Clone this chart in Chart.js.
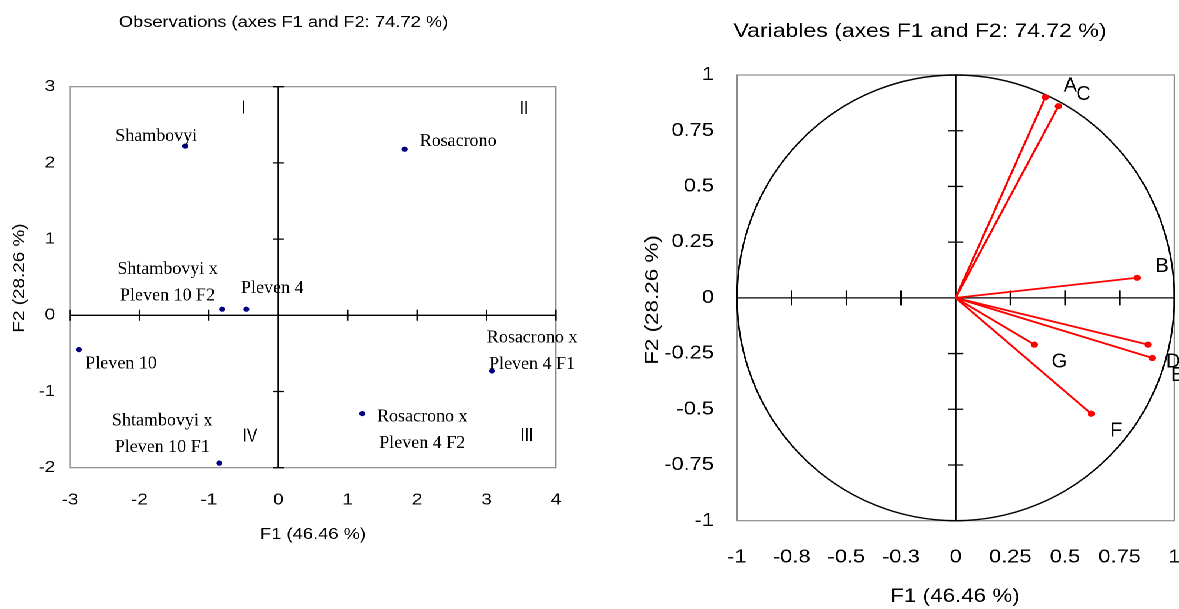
<!DOCTYPE html>
<html><head><meta charset="utf-8">
<script src="https://cdn.jsdelivr.net/npm/chart.js@4/dist/chart.umd.min.js"></script>
<style>
html,body{margin:0;padding:0;background:#fff;overflow:hidden;width:1179px;height:609px;}
#stage{position:absolute;left:0;top:0;width:999px;height:609px;transform-origin:0 0;transform:scaleX(1.18018);}
#c1{position:absolute;left:0;top:0;}
#c2{position:absolute;left:508px;top:0;}
</style></head><body>
<div id="stage"><canvas id="c1" width="508" height="609"></canvas><canvas id="c2" width="491" height="609"></canvas></div>
<script>
// ---------- data ----------
const obsNames = ["Shambovyi","Rosacrono","Shtambovyi x Pleven 10 F2","Pleven 4","Pleven 10","Rosacrono x Pleven 4 F1","Rosacrono x Pleven 4 F2","Shtambovyi x Pleven 10 F1"];
const obsF1 = [-1.34, 1.82, -0.81, -0.46, -2.87, 3.08, 1.21, -0.85];
const obsF2 = [2.22, 2.18, 0.08, 0.08, -0.45, -0.73, -1.29, -1.94];
const obsXTicks = [-3, -2, -1, 0, 1, 2, 3, 4];
const obsYTicks = [-2, -1, 0, 1, 2, 3];
const quadrantNames = ["I", "II", "III", "IV"];

const varNames = ["A","B","C","D","E","F","G"];
const varF1 = [0.41, 0.83, 0.47, 0.88, 0.90, 0.62, 0.36];
const varF2 = [0.90, 0.09, 0.86, -0.21, -0.27, -0.52, -0.21];
const varXTicks = [-1, -0.75, -0.5, -0.25, 0, 0.25, 0.5, 0.75, 1];
const varXTickLabels = ["-1","-0.8","-0.5","-0.3","0","0.25","0.5","0.75","1"];
const varYTicks = [-1, -0.75, -0.5, -0.25, 0, 0.25, 0.5, 0.75, 1];
const varYTickLabels = ["-1","-0.75","-0.5","-0.25","0","0.25","0.5","0.75","1"];
const circleRadius = 1;

const titleObs = "Observations (axes F1 and F2: 74.72 %)";
const titleVar = "Variables (axes F1 and F2: 74.72 %)";
const axisF1 = "F1 (46.46 %)";
const axisF2 = "F2 (28.26 %)";

// ---------- layout (display px) ----------
const K = 1179 / 999;        // horizontal text width factor
const OFF2 = 508;            // internal left of second canvas
const ix1 = d => d / K;
const ix2 = d => d / K - OFF2;
const SANS = '"Liberation Sans", Arial, Helvetica, sans-serif';
const SERIF = '"Liberation Serif", "Times New Roman", serif';

const obsLabelLayout = [
  {dx: -29, dy: -5}, {dx: 53.5, dy: -3}, {dx: -54.5, dy: -35}, {dx: 26, dy: -16},
  {dx: 42, dy: 19}, {dx: 40, dy: -28.4}, {dx: 60, dy: 8}, {dx: -57, dy: -37.6}
];
const quadLayout = [{x: 243.3, y: 113.3}, {x: 524, y: 114}, {x: 526.7, y: 441}, {x: 250, y: 441.7}];

function T(ctx, s, x, y, o) {
  ctx.save();
  ctx.translate(x, y);
  ctx.scale(1 / K, 1);
  if (o.rot) ctx.rotate(o.rot);
  ctx.scale(o.sx || 1, 1);
  ctx.font = o.font;
  ctx.fillStyle = o.color || '#000';
  ctx.textAlign = o.align || 'center';
  ctx.textBaseline = o.baseline || 'alphabetic';
  ctx.fillText(s, 0, 0);
  ctx.restore();
}

function drawFrame(chart) {
  const {ctx, chartArea: a} = chart;
  ctx.save();
  ctx.strokeStyle = '#8c8c8c'; ctx.lineWidth = 1.2;
  ctx.strokeRect(a.left, a.top, a.right - a.left, a.bottom - a.top);
  ctx.restore();
}
function drawZeroAxes(chart, tickHalf) {
  const {ctx, chartArea: a, scales: {x, y}} = chart;
  const x0 = x.getPixelForValue(0), y0 = y.getPixelForValue(0);
  ctx.save();
  ctx.strokeStyle = '#000'; ctx.lineWidth = 1.3;
  ctx.beginPath();
  ctx.moveTo(a.left, y0); ctx.lineTo(a.right, y0);
  ctx.moveTo(x0, a.top); ctx.lineTo(x0, a.bottom);
  x.ticks.forEach(t => { const px = x.getPixelForValue(t.value); ctx.moveTo(px, y0 - tickHalf); ctx.lineTo(px, y0 + tickHalf); });
  y.ticks.forEach(t => { const py = y.getPixelForValue(t.value); ctx.moveTo(x0 - tickHalf / K, py); ctx.lineTo(x0 + tickHalf / K, py); });
  ctx.stroke();
  ctx.restore();
}

function splitName(n) {
  const i = n.indexOf(' x ');
  return i < 0 ? [n] : [n.slice(0, i + 2), n.slice(i + 3)];
}

const leftPlugin = {
  id: 'leftDecor',
  beforeDatasetsDraw(chart) { drawFrame(chart); drawZeroAxes(chart, 5.5); },
  afterDatasetsDraw(chart) {
    const {ctx, scales: {x, y}} = chart;
    obsNames.forEach((n, i) => {
      const px = x.getPixelForValue(obsF1[i]), py = y.getPixelForValue(obsF2[i]);
      const L = obsLabelLayout[i];
      splitName(n).forEach((line, j) => {
        T(ctx, line, px + L.dx / K, py + L.dy + j * 26.5, {font: '18px ' + SERIF});
      });
    });
    quadrantNames.forEach((q, i) => {
      T(ctx, q, ix1(quadLayout[i].x), quadLayout[i].y, {font: '18px ' + SANS, sx: 0.85});
    });
    T(ctx, titleObs, ix1(283.5), 27, {font: '15.5px ' + SANS, sx: K});
    T(ctx, axisF1, ix1(313), 539, {font: '15.5px ' + SANS, sx: K});
    T(ctx, axisF2, ix1(20), 278, {font: '16px ' + SANS, sx: K, rot: -Math.PI / 2, baseline: 'middle'});
  }
};

const rightPlugin = {
  id: 'rightDecor',
  beforeDatasetsDraw(chart) {
    const {ctx, scales: {x, y}} = chart;
    drawFrame(chart);
    const cx = x.getPixelForValue(0), cy = y.getPixelForValue(0);
    const rx = x.getPixelForValue(circleRadius) - cx, ry = cy - y.getPixelForValue(circleRadius);
    ctx.save();
    ctx.strokeStyle = '#000'; ctx.lineWidth = 1.4;
    ctx.beginPath(); ctx.ellipse(cx, cy, rx, ry, 0, 0, Math.PI * 2); ctx.stroke();
    ctx.restore();
    drawZeroAxes(chart, 7.5);
  },
  afterDatasetsDraw(chart) {
    const {ctx, scales: {x, y}} = chart;
    varNames.forEach((n, i) => {
      const px = x.getPixelForValue(varF1[i]), py = y.getPixelForValue(varF2[i]);
      T(ctx, n, px + 25 / K, py + (varF2[i] >= 0 ? -6 : 23), {font: '20px ' + SANS});
    });
    T(ctx, titleVar, ix2(920), 37, {font: '19.5px ' + SANS, sx: K});
    T(ctx, axisF1, ix2(955), 602, {font: '19px ' + SANS, sx: K});
    T(ctx, axisF2, ix2(653), 300, {font: '19px ' + SANS, sx: K, rot: -Math.PI / 2, baseline: 'middle'});
  }
};

const common = {
  responsive: false, animation: false, devicePixelRatio: 2, events: [],
  plugins: {legend: {display: false}, tooltip: {enabled: false}, title: {display: false}}
};
const noGrid = {display: false, drawTicks: false, tickLength: 0};

new Chart(document.getElementById('c1'), {
  type: 'scatter',
  data: {datasets: [{
    data: obsF1.map((v, i) => ({x: v, y: obsF2[i]})),
    pointRadius: 2.6, pointBackgroundColor: '#000080', pointBorderWidth: 0, clip: false
  }]},
  options: Object.assign({}, common, {
    layout: {padding: {top: 86.7, right: 36.9, left: 0, bottom: 0}},
    scales: {
      x: {type: 'linear', min: -3, max: 4, grid: noGrid, border: {display: false},
        afterBuildTicks: s => { s.ticks = obsXTicks.map(v => ({value: v})); },
        afterFit: s => { s.height = 141.3; s.paddingLeft = 0; s.paddingRight = 0; },
        ticks: {font: {family: SANS, size: 16}, color: '#000', padding: 22.7, autoSkip: false, maxRotation: 0}},
      y: {type: 'linear', min: -2, max: 3, grid: noGrid, border: {display: false},
        afterBuildTicks: s => { s.ticks = obsYTicks.map(v => ({value: v})); },
        afterFit: s => { s.width = 59.3; s.paddingTop = 0; s.paddingBottom = 0; },
        ticks: {font: {family: SANS, size: 16}, color: '#000', padding: 12.5, autoSkip: false}}
    }
  }),
  plugins: [leftPlugin]
});

new Chart(document.getElementById('c2'), {
  type: 'scatter',
  data: {datasets: varNames.map((n, i) => ({
    label: n,
    data: [{x: 0, y: 0}, {x: varF1[i], y: varF2[i]}],
    showLine: true, borderColor: '#ff0000', borderWidth: 1.8,
    pointRadius: [0, 3.1], pointBackgroundColor: '#ff0000', pointBorderWidth: 0, clip: false
  }))},
  options: Object.assign({}, common, {
    layout: {padding: {top: 75, right: 2.6, left: 0, bottom: 0}},
    scales: {
      x: {type: 'linear', min: -1, max: 1, grid: noGrid, border: {display: false},
        afterBuildTicks: s => { s.ticks = varXTicks.map(v => ({value: v})); },
        afterFit: s => { s.height = 88.3; s.paddingLeft = 0; s.paddingRight = 0; },
        ticks: {font: {family: SANS, size: 18.5}, color: '#000', padding: 25.7, autoSkip: false, maxRotation: 0,
          callback: (v, i) => varXTickLabels[i]}},
      y: {type: 'linear', min: -1, max: 1, grid: noGrid, border: {display: false},
        afterBuildTicks: s => { s.ticks = varYTicks.map(v => ({value: v})); },
        afterFit: s => { s.width = 116.5; s.paddingTop = 0; s.paddingBottom = 0; },
        ticks: {font: {family: SANS, size: 18.5}, color: '#000', padding: 19.5, autoSkip: false,
          callback: (v, i) => varYTickLabels[i]}}
    }
  }),
  plugins: [rightPlugin]
});
</script>
</body></html>
